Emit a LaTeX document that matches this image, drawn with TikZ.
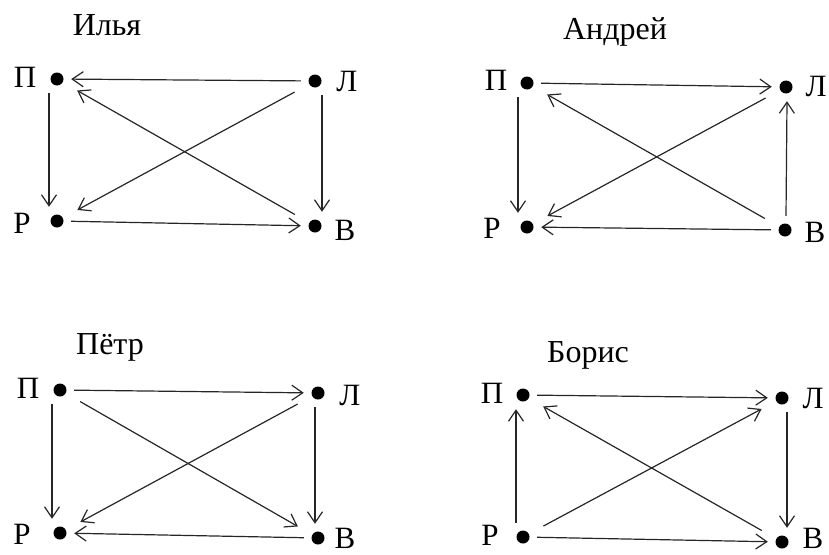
\documentclass[tikz,border=0pt]{standalone}
\usepackage{fontspec}
\setmainfont{Liberation Serif}
\usetikzlibrary{arrows.meta}
\tikzset{
  vtx/.style={circle, minimum size=28pt, inner sep=0pt,
    path picture={\fill[black] (path picture bounding box.center) circle (6.5pt);}},
  lab/.style={font=\fontsize{31}{31}\selectfont, inner sep=0pt, text=black},
  ttl/.style={font=\fontsize{32}{32}\selectfont, inner sep=0pt, text=black},
  arr/.style={draw=black!85, line width=1.2pt, -{Straight Barb[length=11pt,width=15pt,line width=1.2pt]}},
  diag/.style={arr, shorten <=9pt, shorten >=9pt},
}
\begin{document}
\begin{tikzpicture}[x=1pt,y=-1pt]
\useasboundingbox (0,0) rectangle (829,554);
% ---------- Ilya ----------
\node[ttl] (t1) at (107,25) {Илья};
\node[vtx] (P1) at (57,79) {};
\node[vtx] (L1) at (315,81) {};
\node[vtx] (R1) at (57,221) {};
\node[vtx] (V1) at (315,226) {};
\node[lab] (lP1) at (25,77) {П};
\node[lab] (lL1) at (347,82) {Л};
\node[lab] (lR1) at (22,223) {Р};
\node[lab] (lV1) at (345,230) {В};
\draw[arr] (L1) -- (P1);
\draw[diag] (V1) -- (P1);
\draw[diag] (L1) -- (R1);
\draw[arr] ([xshift=-8pt]P1.south) -- ([xshift=-8pt]R1.north);
\draw[arr] ([xshift=7pt]L1.south) -- ([xshift=7pt]V1.north);
\draw[arr] (R1) -- (V1);
% ---------- Andrey ----------
\node[ttl] (t2) at (615,32) {Андрей};
\node[vtx] (P2) at (527,83) {};
\node[vtx] (L2) at (786,87) {};
\node[vtx] (R2) at (527,227) {};
\node[vtx] (V2) at (785,230) {};
\node[lab] (lP2) at (496,80) {П};
\node[lab] (lL2) at (816,87) {Л};
\node[lab] (lR2) at (492,228) {Р};
\node[lab] (lV2) at (815,232) {В};
\draw[arr] (P2) -- (L2);
\draw[diag] (V2) -- (P2);
\draw[diag] (L2) -- (R2);
\draw[arr] ([xshift=-9pt]P2.south) -- ([xshift=-9pt]R2.north);
\draw[arr] ([xshift=1pt]V2.north) -- ([xshift=1pt]L2.south);
\draw[arr] (V2) -- (R2);
% ---------- Pyotr ----------
\node[ttl] (t3) at (110,347) {Пётр};
\node[vtx] (P3) at (60,390) {};
\node[vtx] (L3) at (318,393) {};
\node[vtx] (R3) at (60,533) {};
\node[vtx] (V3) at (318,538) {};
\node[lab] (lP3) at (28,388) {П};
\node[lab] (lL3) at (350,395) {Л};
\node[lab] (lR3) at (22,534) {Р};
\node[lab] (lV3) at (345,538) {В};
\draw[arr] (P3) -- (L3);
\draw[diag] (P3) -- (V3);
\draw[diag] (L3) -- (R3);
\draw[arr] ([xshift=-8pt]P3.south) -- ([xshift=-8pt]R3.north);
\draw[arr] ([xshift=-3pt]L3.south) -- ([xshift=-3pt]V3.north);
\draw[arr] (V3) -- (R3);
% ---------- Boris ----------
\node[ttl] (t4) at (588,355) {Борис};
\node[vtx] (P4) at (523,395) {};
\node[vtx] (L4) at (782,398) {};
\node[vtx] (R4) at (523,537) {};
\node[vtx] (V4) at (782,542) {};
\node[lab] (lP4) at (492,393) {П};
\node[lab] (lL4) at (813,398) {Л};
\node[lab] (lR4) at (490,535) {Р};
\node[lab] (lV4) at (813,538) {В};
\draw[arr] (P4) -- (L4);
\draw[diag] (V4) -- (P4);
\draw[diag] (R4) -- (L4);
\draw[arr] ([xshift=-7pt]R4.north) -- ([xshift=-7pt]P4.south);
\draw[arr] ([xshift=5pt]L4.south) -- ([xshift=5pt]V4.north);
\draw[arr] (R4) -- (V4);
\end{tikzpicture}
\end{document}
